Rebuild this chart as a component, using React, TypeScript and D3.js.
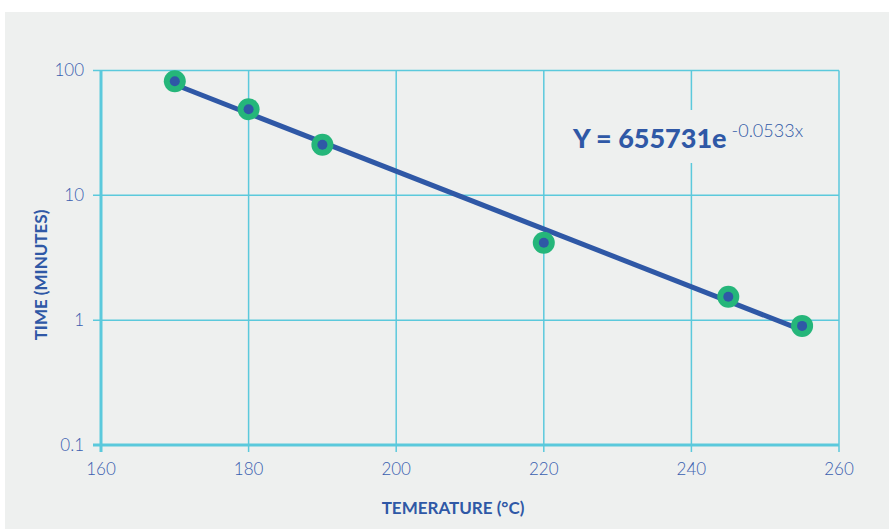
import React from "react";
import * as d3 from "d3";

const temperatures = [170, 180, 190, 220, 245, 255];
const times = [82, 49, 25.4, 4.17, 1.54, 0.9];
const xTicks = [160, 180, 200, 220, 240, 260];
const yTicks = [0.1, 1, 10, 100];
const yTickLabels = ["0.1", "1", "10", "100"];
const equationMain = "Y = 655731e";
const equationExp = "-0.0533x";
const xTitle = "TEMERATURE (°C)";
const yTitle = "TIME (MINUTES)";

const W = 889, H = 529;
const M = { left: 101, right: 839, top: 70.5, bottom: 445 };
const BLUE = "#2f58a6";
const TICKBLUE = "#3a5fb0";
const CYAN = "#5bc9dc";
const GREEN = "#25b67a";
const BG = "#eef0ef";
const FONT = "Lato, 'Open Sans', sans-serif";

export default function App() {
  const x = d3.scaleLinear().domain([160, 260]).range([M.left, M.right]);
  const y = d3.scaleLog().domain([0.1, 100]).range([M.bottom, M.top]);

  // exponential least-squares fit on the data
  const n = temperatures.length;
  const lx = temperatures;
  const ly = times.map((v) => Math.log(v));
  const mx = d3.mean(lx)!;
  const my = d3.mean(ly)!;
  const b = d3.sum(lx.map((v, i) => (v - mx) * (ly[i] - my))) / d3.sum(lx.map((v) => (v - mx) ** 2));
  const a = my - b * mx;
  const fit = (t: number) => Math.exp(a + b * t);
  const x0 = temperatures[0], x1 = temperatures[n - 1];
  const line = d3.line<number>().x((t) => x(t)).y((t) => y(fit(t)));

  return (
    <svg width={W} height={H} style={{ position: "absolute", left: 0, top: 0 }} fontFamily={FONT}>
      <rect x={0} y={0} width={W} height={H} fill="#ffffff" />
      <rect x={5} y={12} width={W - 5} height={H - 12} fill={BG} />
      {/* horizontal gridlines + ticks */}
      {yTicks.map((t, i) => (
        <g key={"y" + t}>
          <line x1={M.left - 8} x2={M.right} y1={y(t)} y2={y(t)} stroke={CYAN} strokeWidth={i === 0 ? 3 : 1.5} />
          <text x={84} y={y(t)} dy="0.35em" textAnchor="end" fontSize={17} fill={TICKBLUE} fontWeight={300}>
            {yTickLabels[i]}
          </text>
        </g>
      ))}
      {/* vertical gridlines */}
      {xTicks.map((t, i) => (
        <g key={"x" + t}>
          <line x1={x(t)} x2={x(t)} y1={M.top} y2={M.bottom + 7} stroke={CYAN} strokeWidth={i === 0 ? 3 : 1.5} />
          <text x={x(t)} y={469} dy="0.35em" textAnchor="middle" fontSize={17} fill={TICKBLUE} fontWeight={300}>
            {t}
          </text>
        </g>
      ))}
      {/* equation */}
      <rect x={568} y={110} width={250} height={53} fill={BG} />
      <text x={573} y={148} fill={BLUE} fontFamily={FONT}>
        <tspan fontSize={27} fontWeight={900}>{equationMain}</tspan>
        <tspan fontSize={18} fontWeight={300} dx={5} dy={-11}>{equationExp}</tspan>
      </text>
      {/* trend line */}
      <path d={line([x0, x1]) || ""} stroke={BLUE} strokeWidth={5} fill="none" />
      {/* points */}
      {temperatures.map((t, i) => (
        <g key={"p" + t}>
          <circle cx={x(t)} cy={y(times[i])} r={11} fill={GREEN} />
          <circle cx={x(t)} cy={y(times[i])} r={5} fill={BLUE} />
        </g>
      ))}
      {/* axis titles */}
      <text x={453} y={508} dy="0.35em" textAnchor="middle" fontSize={17} fontWeight={700} fill={BLUE}>
        {xTitle}
      </text>
      <text transform={`translate(41,${275}) rotate(-90)`} dy="0.35em" textAnchor="middle" fontSize={17} fontWeight={700} fill={BLUE}>
        {yTitle}
      </text>
    </svg>
  );
}
